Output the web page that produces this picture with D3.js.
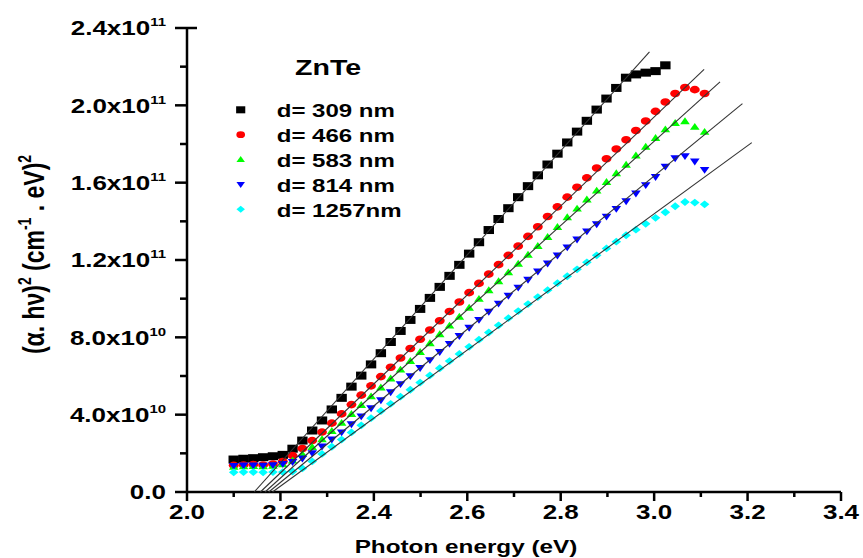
<!DOCTYPE html>
<html>
<head>
<meta charset="utf-8">
<script src="https://cdn.jsdelivr.net/npm/d3@7"></script>
<style>
  body { margin: 0; background: #fff; }
  svg { display: block; font-family: "Liberation Sans", Arial, sans-serif; font-weight: bold; }
</style>
</head>
<body>
<div id="chart"></div>
<script>

// photon energy grid (eV), shared by every film
var energy = [2.100, 2.121, 2.142, 2.163, 2.184, 2.205, 2.226, 2.247, 2.268, 2.289,
  2.310, 2.331, 2.352, 2.373, 2.394, 2.415, 2.436, 2.457, 2.478, 2.499,
  2.520, 2.541, 2.562, 2.583, 2.604, 2.625, 2.646, 2.667, 2.688, 2.709,
  2.730, 2.751, 2.772, 2.793, 2.814, 2.835, 2.856, 2.877, 2.898, 2.919,
  2.940, 2.961, 2.982, 3.003, 3.024, 3.045, 3.066, 3.087, 3.108];

// (alpha.hv)^2 in units of 1e10 (cm-1.eV)^2
var d309 = [1.68, 1.72, 1.75, 1.80, 1.85, 1.92, 2.24, 2.66, 3.18, 3.70,
  4.27, 4.87, 5.45, 6.02, 6.60, 7.18, 7.76, 8.33, 8.90, 9.47,
  10.04, 10.61, 11.18, 11.75, 12.33, 12.92, 13.55, 14.12, 14.68, 15.25,
  15.82, 16.38, 16.94, 17.50, 18.08, 18.64, 19.20, 19.78, 20.35, 20.90,
  21.43, 21.60, 21.69, 21.77, 22.07];
var d466 = [1.38, 1.40, 1.42, 1.40, 1.45, 1.58, 1.88, 2.25, 2.66, 3.10,
  3.56, 4.04, 4.52, 5.01, 5.49, 5.97, 6.45, 6.93, 7.42, 7.90,
  8.38, 8.86, 9.34, 9.83, 10.31, 10.79, 11.27, 11.76, 12.24, 12.72,
  13.22, 13.72, 14.25, 14.75, 15.25, 15.76, 16.25, 16.76, 17.24, 17.74,
  18.22, 18.70, 19.19, 19.69, 20.17, 20.61, 20.92, 20.81, 20.61];
var d583 = [1.30, 1.32, 1.33, 1.32, 1.35, 1.42, 1.62, 1.95, 2.32, 2.72,
  3.15, 3.57, 4.03, 4.49, 4.94, 5.40, 5.86, 6.32, 6.77, 7.23,
  7.69, 8.15, 8.60, 9.06, 9.52, 9.98, 10.43, 10.89, 11.35, 11.80,
  12.26, 12.72, 13.18, 13.70, 14.20, 14.65, 15.12, 15.58, 16.03, 16.48,
  16.92, 17.40, 17.85, 18.30, 18.75, 19.08, 19.17, 18.88, 18.62];
var d814 = [1.36, 1.38, 1.38, 1.37, 1.40, 1.46, 1.56, 1.74, 2.02, 2.36,
  2.72, 3.09, 3.51, 3.92, 4.34, 4.75, 5.17, 5.59, 6.00, 6.42,
  6.83, 7.25, 7.67, 8.08, 8.50, 8.91, 9.33, 9.75, 10.16, 10.58,
  10.99, 11.41, 11.83, 12.24, 12.66, 13.07, 13.49, 13.86, 14.25, 14.65,
  15.05, 15.45, 15.88, 16.30, 16.84, 17.27, 17.38, 17.10, 16.67];
var d1257 = [1.02, 1.03, 1.03, 1.02, 1.03, 1.03, 1.06, 1.22, 1.58, 1.97,
  2.34, 2.71, 3.08, 3.45, 3.82, 4.19, 4.56, 4.93, 5.29, 5.66,
  6.03, 6.40, 6.77, 7.14, 7.51, 7.88, 8.25, 8.62, 8.99, 9.36,
  9.72, 10.08, 10.44, 10.80, 11.16, 11.52, 11.88, 12.24, 12.60, 12.95,
  13.28, 13.57, 13.87, 14.18, 14.47, 14.78, 15.00, 14.97, 14.88];

var seriesNames = ["d= 309 nm", "d= 466 nm", "d= 583 nm", "d= 814 nm", "d= 1257nm"];
var seriesColors = ["#000000", "#ff0000", "#00ff00", "#0000ff", "#00ffff"];
var seriesShapes = ["square", "circle", "triangle", "triangleDown", "diamond"];

// linear fits: x intercept, and the upper end of each drawn line
var fitStartX = [2.144, 2.157, 2.167, 2.175, 2.183];
var fitEndX = [2.990, 3.107, 3.141, 3.189, 3.209];
var fitEndY = [22.76, 21.86, 21.21, 20.09, 18.07];

var xTicks = [2.0, 2.2, 2.4, 2.6, 2.8, 3.0, 3.2, 3.4];
var xMinorTicks = [2.1, 2.3, 2.5, 2.7, 2.9, 3.1, 3.3];
var yTicks = [0, 4, 8, 12, 16, 20, 24];
var yMinorTicks = [2, 6, 10, 14, 18, 22];
var yTickMantissa = ["0.0", "4.0", "8.0", "1.2", "1.6", "2.0", "2.4"];
var yTickPower = ["", "10", "10", "11", "11", "11", "11"];

var width = 863, height = 558;
var margin = {top: 28, right: 22, bottom: 66, left: 187};
var stretch = 1.3; // the original picture is squeezed wider than tall

var svg = d3.select("#chart").append("svg")
  .attr("width", width)
  .attr("height", height);

var x = d3.scaleLinear().domain([2.0, 3.4]).range([margin.left, width - margin.right]);
var y = d3.scaleLinear().domain([0, 24]).range([height - margin.bottom, margin.top]);

var shapes = {
  square: "M-4,-4H4V4H-4Z",
  circle: d3.symbol().type(d3.symbolCircle).size(Math.PI * 3.8 * 3.8)(),
  triangle: "M0,-4.1L3.7,2.8L-3.7,2.8Z",
  triangleDown: "M0,4.1L3.7,-2.8L-3.7,-2.8Z",
  diamond: "M0,-3.9L3.7,0L0,3.9L-3.7,0Z"
};

//Axes
svg.append("g").attr("class", "axis")
  .attr("transform", "translate(0," + y(0) + ")")
  .call(d3.axisBottom(x).tickValues(xTicks).tickSize(9).tickSizeOuter(0).offset(0).tickFormat(""));
svg.append("g").attr("class", "axis minor")
  .attr("transform", "translate(0," + y(0) + ")")
  .call(d3.axisBottom(x).tickValues(xMinorTicks).tickSize(5).tickSizeOuter(0).offset(0).tickFormat(""));
svg.append("g").attr("class", "axis")
  .attr("transform", "translate(" + x(2.0) + ",0)")
  .call(d3.axisLeft(y).tickValues(yTicks).tickSize(12).tickSizeOuter(0).offset(0).tickFormat(""));
svg.append("g").attr("class", "axis minor")
  .attr("transform", "translate(" + x(2.0) + ",0)")
  .call(d3.axisLeft(y).tickValues(yMinorTicks).tickSize(7).tickSizeOuter(0).offset(0).tickFormat(""));
svg.selectAll(".minor .domain").remove();
svg.selectAll(".axis path, .axis line").attr("stroke", "#000").attr("stroke-width", 2.5);

svg.append("line")
  .attr("x1", x(2.0)).attr("x2", x(2.0) + 10)
  .attr("y1", y(24)).attr("y2", y(24))
  .attr("stroke", "#000").attr("stroke-width", 2.5);

// tick labels
var yLab = svg.selectAll(".ylab").data(yTicks).enter().append("text")
  .attr("class", "ylab")
  .attr("transform", function(d) {
    return "translate(166," + (y(d) + 7.2) + ") scale(" + stretch + ",1)";
  })
  .attr("text-anchor", "end")
  .style("font-size", "20px");
yLab.append("tspan").text(function(d, i) {
  return yTickPower[i] ? yTickMantissa[i] + "x10" : yTickMantissa[i];
});
yLab.append("tspan")
  .attr("dy", -9)
  .style("font-size", "11.5px")
  .text(function(d, i) { return yTickPower[i]; });

svg.selectAll(".xlab").data(xTicks).enter().append("text")
  .attr("class", "xlab")
  .attr("transform", function(d) {
    return "translate(" + x(d) + ",519) scale(" + stretch + ",1)";
  })
  .attr("text-anchor", "middle")
  .style("font-size", "20px")
  .text(function(d) { return d3.format(".1f")(d); });

// axis titles
svg.append("text")
  .attr("transform", "translate(466,553) scale(" + stretch + ",1)")
  .attr("text-anchor", "middle")
  .style("font-size", "18.7px")
  .text("Photon energy (eV)");

var yTitle = svg.append("text")
  .attr("transform", "translate(43.5,254.5) scale(" + stretch + ",1) rotate(-90)")
  .attr("text-anchor", "middle")
  .style("font-size", "23px");
yTitle.append("tspan").text("(\u03b1. h\u03bd)");
yTitle.append("tspan").attr("dy", -10).style("font-size", "14px").text("2");
yTitle.append("tspan").attr("dy", 10).text(" (cm");
yTitle.append("tspan").attr("dy", -10).style("font-size", "14px").text("-1");
yTitle.append("tspan").attr("dy", 10).text(" . eV)");
yTitle.append("tspan").attr("dy", -10).style("font-size", "14px").text("2");

// data points
var allSeries = [d309, d466, d583, d814, d1257];
allSeries.forEach(function(vals, i) {
  svg.append("g").attr("class", "series")
    .selectAll("path")
    .data(vals)
    .enter()
    .append("path")
    .attr("d", shapes[seriesShapes[i]])
    .attr("fill", seriesColors[i])
    .attr("transform", function(d, j) {
      return "translate(" + x(energy[j]) + "," + y(d) + ") scale(" + stretch + ",1)";
    });
});

// fitted straight lines, drawn over the points
svg.append("g").selectAll("line")
  .data(fitStartX)
  .enter()
  .append("line")
  .attr("x1", function(d) { return x(d); })
  .attr("y1", y(0))
  .attr("x2", function(d, i) { return x(fitEndX[i]); })
  .attr("y2", function(d, i) { return y(fitEndY[i]); })
  .attr("stroke", "#333")
  .attr("stroke-width", 1.1);

// legend
svg.append("text")
  .attr("transform", "translate(295,75) scale(" + stretch + ",1)")
  .style("font-size", "22px")
  .text("ZnTe");

var legend = svg.selectAll(".legend").data(seriesNames).enter().append("g")
  .attr("class", "legend")
  .attr("transform", function(d, i) { return "translate(0," + (117.3 + i * 24.85) + ")"; });
legend.append("path")
  .attr("d", function(d, i) { return shapes[seriesShapes[i]]; })
  .attr("fill", function(d, i) { return seriesColors[i]; })
  .attr("transform", "translate(240.7,-7.5) scale(" + (stretch * 0.88) + ",0.88)");
legend.append("text")
  .attr("transform", "translate(276.7,0) scale(" + stretch + ",1)")
  .style("font-size", "18.5px")
  .text(function(d) { return d; });

</script>
</body>
</html>
